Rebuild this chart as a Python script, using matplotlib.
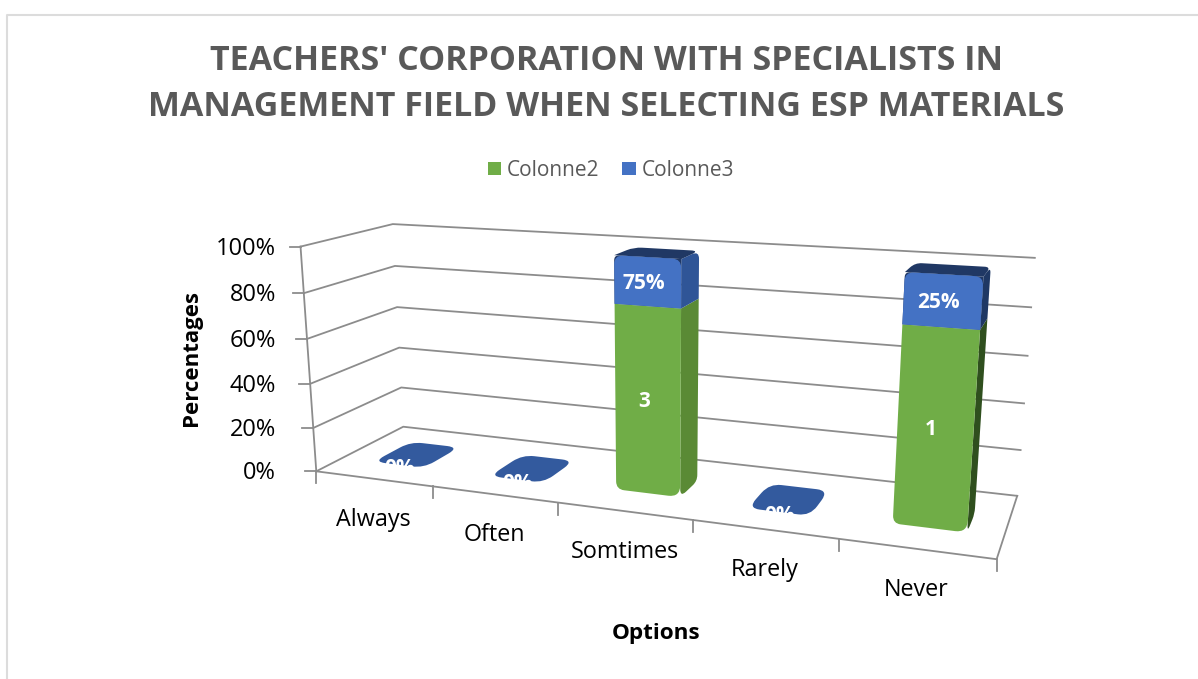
import numpy as np
import matplotlib
matplotlib.use("Agg")
import matplotlib.pyplot as plt
from matplotlib.patches import PathPatch, Rectangle
from matplotlib.path import Path

# Data
categories = ["Always", "Often", "Somtimes", "Rarely", "Never"]
colonne2 = [0, 0, 3, 0, 1]
colonne3 = [0, 0, 0.75, 0, 0.25]
labels2 = ["", "", "3", "", "1"]
labels3 = ["0%", "0%", "75%", "0%", "25%"]
y_ticks = [0, 20, 40, 60, 80, 100]

title = "TEACHERS' CORPORATION WITH SPECIALISTS IN\nMANAGEMENT FIELD WHEN SELECTING ESP MATERIALS"

plt.rcParams["font.family"] = ["Open Sans", "DejaVu Sans"]

GREEN = "#70ad47"
BLUE = "#4472c4"
GRID = "#8c8c8c"
TEXT = "#595959"

# (category pos, depth, percent) -> pixel, used to fit the 3d view of the plot box
calib = [
    (0, 0, 0, 316, 471), (1, 0, 0, 433, 487), (2, 0, 0, 558, 503),
    (3, 0, 0, 693, 520), (4, 0, 0, 838, 538), (5, 0, 0, 997, 561),
    (0, 0, 20, 314, 428), (0, 0, 40, 311, 384), (0, 0, 60, 307, 338),
    (0, 0, 80, 304, 293), (0, 0, 100, 300, 246),
    (0, 1, 0, 403, 427), (0, 1, 20, 401, 388), (0, 1, 40, 399, 348),
    (0, 1, 60, 397, 307), (0, 1, 80, 395, 267), (0, 1, 100, 393, 223),
    (5, 1, 0, 1018, 493), (5, 1, 20, 1021, 449), (5, 1, 40, 1024, 405),
    (5, 1, 60, 1027, 356), (5, 1, 80, 1031, 308), (5, 1, 100, 1035, 258),
]
A, b = [], []
for x, d, v, px, py in calib:
    A.append([x, d, v, 1, 0, 0, 0, 0, -px * x, -px * d, -px * v])
    A.append([0, 0, 0, 0, x, d, v, 1, -py * x, -py * d, -py * v])
    b += [px, py]
m = np.linalg.lstsq(np.array(A, float), np.array(b, float), rcond=None)[0]
M = np.append(m, 1).reshape(3, 4)


def proj(x, d, v):
    p = M @ np.array([x, d, v, 1.0])
    return p[0] / p[2], p[1] / p[2]


def rounded(pts, radii):
    # closed polygon with soft corners, like the bevel on the excel bars
    pts = [np.array(p) for p in pts]
    n = len(pts)
    verts, codes = [], []
    for i in range(n):
        p, prev, nxt = pts[i], pts[i - 1], pts[(i + 1) % n]
        la, lc = np.linalg.norm(prev - p), np.linalg.norm(nxt - p)
        r = min(radii[i], la / 2, lc / 2)
        a = p + (prev - p) / la * r
        c = p + (nxt - p) / lc * r
        verts += [a, p, c]
        codes += [Path.LINETO, Path.CURVE3, Path.CURVE3]
    codes[0] = Path.MOVETO
    verts.append(verts[0])
    codes.append(Path.CLOSEPOLY)
    return Path(verts, codes)


def face(ax, pts, radii, color, z):
    patch = PathPatch(rounded(pts, radii), facecolor=color, edgecolor="none", zorder=z)
    ax.add_patch(patch)
    return patch


fig = plt.figure(figsize=(11.98, 6.79), dpi=100)
ax = fig.add_axes([0, 0, 1, 1])
ax.set_xlim(0, 1198)
ax.set_ylim(679, 0)
ax.axis("off")

# chart frame
ax.plot([6.5, 6.5, 1198], [679, 14.5, 14.5], color="#dcdcdc", lw=1.5)

# walls and floor
for v in y_ticks:
    pts = [proj(0, 0, v), proj(0, 1, v), proj(5, 1, v)]
    ax.plot(*zip(*pts), color=GRID, lw=1.3, zorder=1)
    fx, fy = proj(0, 0, v)
    ax.plot([fx - 11, fx], [fy, fy], color=GRID, lw=1.3, zorder=1)
    ax.text(276, fy + 2, f"{v}%", ha="right", va="center", fontsize=17, color="black")
ax.plot(*zip(proj(0, 0, 0), proj(0, 0, 100)), color=GRID, lw=1.3, zorder=1)
ax.plot(*zip(proj(0, 0, 0), proj(5, 0, 0), proj(5, 1, 0)), color=GRID, lw=1.3, zorder=1)

for i, cat in enumerate(categories):
    fx, fy = proj(i, 0, 0)
    ax.plot([fx, fx], [fy, fy + 12], color=GRID, lw=1.3, zorder=1)
    cx, cy = proj(i + 0.5, 0, 0)
    ax.text(cx, cy + 41, cat, ha="center", va="center", fontsize=16.8, color="black")
ex, ey = proj(5, 0, 0)
ax.plot([ex, ex], [ey, ey + 12], color=GRID, lw=1.3, zorder=1)

# bars, 100% stacked
bar_w = 0.49
bar_off = 0.02
d0, d1 = 0.32, 0.62
flat_w = 0.44
flat_d0, flat_d1 = 0.28, 0.72
side_green = ["#5a8a35", "#5a8a35", "#5a8a35", "#5a8a35", "#2f4f1e"]
side_blue = ["#2f5597", "#2f5597", "#2f5597", "#2f5597", "#1f3864"]
for i in range(len(categories)):
    total = colonne2[i] + colonne3[i]
    if total == 0:
        x0 = i + (1 - flat_w) / 2
        x1 = x0 + flat_w
        flat = [proj(x0, flat_d0, 0), proj(x0, flat_d1, 0), proj(x1, flat_d1, 0), proj(x1, flat_d0, 0)]
        patch = face(ax, flat, [12, 12, 12, 12], "#335a9e", 3)
        tx, ty = proj((x0 + x1) / 2, flat_d0, 0)
        t = ax.text(tx + 1, ty + 4, labels3[i], ha="center", va="center", fontsize=15,
                    fontweight="bold", color="white", zorder=4)
        t.set_clip_path(patch)
        continue
    x0 = i + (1 - bar_w) / 2 + bar_off
    x1 = x0 + bar_w
    xm = (x0 + x1) / 2
    split = colonne2[i] / total * 100
    # right side
    face(ax, [proj(x1, d0, 0), proj(x1, d1, 0), proj(x1, d1, split), proj(x1, d0, split)],
         [8, 6, 0, 0], side_green[i], 3)
    face(ax, [proj(x1, d0, split), proj(x1, d1, split), proj(x1, d1, 100), proj(x1, d0, 100)],
         [0, 0, 8, 0], side_blue[i], 3)
    # top
    face(ax, [proj(x0, d0, 100), proj(x0, d1, 100), proj(x1, d1, 100), proj(x1, d0, 100)],
         [0, 8, 8, 0], "#203864", 3)
    # dark backing so the rounded front corners don't show white
    face(ax, [proj(x0, d0, split), proj(x0, d0, 100), proj(x1, d0, 100), proj(x1, d0, split)],
         [0, 5, 0, 0], "#203864", 3.5)
    # front
    face(ax, [proj(x0, d0, 0), proj(x0, d0, split), proj(x1, d0, split), proj(x1, d0, 0)],
         [8, 0, 0, 12], GREEN, 4)
    face(ax, [proj(x0, d0, split), proj(x0, d0, 100), proj(x1, d0, 100), proj(x1, d0, split)],
         [0, 9, 9, 0], BLUE, 4)
    tx, ty = proj(xm, d0, split / 2)
    ax.text(tx - 4, ty, labels2[i], ha="center", va="center", fontsize=15, fontweight="bold",
            color="white", zorder=5)
    tx, ty = proj(xm, d0, (split + 100) / 2)
    ax.text(tx - 4, ty + 2, labels3[i], ha="center", va="center", fontsize=15, fontweight="bold",
            color="white", zorder=5)

ax.text(606, 84, title, ha="center", va="center", fontsize=24.5, fontweight="bold",
        color=TEXT, linespacing=1.47)

# legend
ax.add_patch(Rectangle((488, 162), 13, 13, facecolor=GREEN, edgecolor="none"))
ax.text(507, 170, "Colonne2", ha="left", va="center", fontsize=15, color=TEXT)
ax.add_patch(Rectangle((622, 162), 14, 13, facecolor=BLUE, edgecolor="none"))
ax.text(642, 170, "Colonne3", ha="left", va="center", fontsize=15, color=TEXT)

ax.text(191, 358, "Percentages", rotation=90, ha="center", va="center", fontsize=16,
        fontweight="bold", color="black")
ax.text(656, 633, "Options", ha="center", va="center", fontsize=16.2, fontweight="bold", color="black")

fig.savefig("out.png", dpi=100)
